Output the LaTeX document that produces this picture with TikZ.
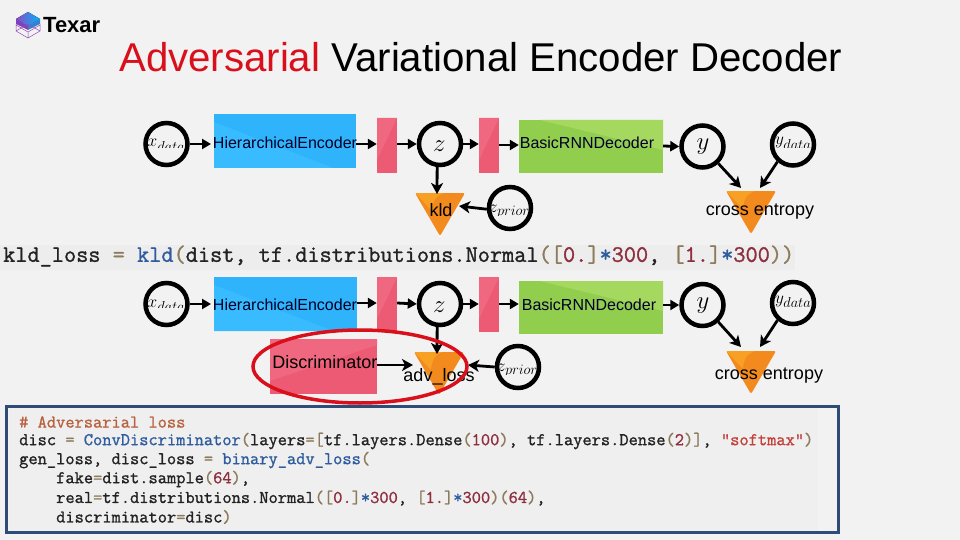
\documentclass[tikz,border=0pt]{standalone}
\usepackage{fontspec}
\setmainfont{Liberation Sans}
\setmonofont{Latin Modern Mono}[FakeBold=1.2]
\usetikzlibrary{arrows.meta,calc,shapes.geometric}
\definecolor{bgc}{HTML}{F2F2F2}
\definecolor{blueA}{HTML}{2FB4FC}
\definecolor{blueB}{HTML}{38BBFF}
\definecolor{greenA}{HTML}{92CE4E}
\definecolor{greenB}{HTML}{A5D85E}
\definecolor{pinkA}{HTML}{EC5A74}
\definecolor{pinkB}{HTML}{F0687F}
\definecolor{orA}{HTML}{F28A1E}
\definecolor{orB}{HTML}{F8A023}
\definecolor{boxc}{HTML}{2F4C78}
\definecolor{cKw}{HTML}{2F5C9E}
\definecolor{cCm}{HTML}{B8623F}
\definecolor{cNum}{HTML}{8E2F3F}
\definecolor{cStr}{HTML}{C2413B}
\definecolor{cOp}{HTML}{8D7B5C}
\definecolor{cTx}{HTML}{222222}
\definecolor{advred}{HTML}{D9101C}
\definecolor{stripc}{HTML}{EDEDED}
\definecolor{codebg}{HTML}{EFEFEF}
\newcommand{\K}[1]{\textcolor{cKw}{#1}}
\newcommand{\C}[1]{\textcolor{cCm}{#1}}
\newcommand{\N}[1]{\textcolor{cNum}{#1}}
\newcommand{\St}[1]{\textcolor{cStr}{#1}}
\newcommand{\Op}[1]{\textcolor{cOp}{#1}}
\tikzset{
  x=1pt,y=-1pt,
  ring/.style={circle,draw=black,line width=4.5pt,minimum size=42pt,inner sep=0pt},
  lab/.style={inner sep=0pt,font=\fontsize{18}{18}\selectfont,text=black},
  boxlab/.style={inner sep=0pt,font=\fontsize{16}{16}\selectfont,text=black!85!blue},
  ar/.style={-{Triangle[length=9pt,width=10pt]},line width=2.8pt,black},
  ard/.style={-{Stealth[length=11pt,width=12pt,inset=3pt]},line width=2.8pt,black},
  code/.style={anchor=west,inner sep=0pt,text=cTx,font=\ttfamily\fontsize{17.93}{17.93}\selectfont},
  codeb/.style={anchor=west,inner sep=0pt,text=cTx,font=\ttfamily\fontsize{23.63}{23.63}\selectfont},
}
% #1 name, #2 centre, #3 maths, #4 x offset, #5 baseline offset, #6 clip bottom, #7 size
\newcommand{\ringnode}[7]{%
  \begin{scope}
    \clip ($#2+(-22,-21)$) rectangle ($#2+(22,#6)$);
    \node[inner sep=0pt,anchor=base west,font=\fontsize{#7}{#7}\selectfont] (#1t) at ($#2+(#4,#5)$) {$#3$};
  \end{scope}
  \node[ring] (#1) at #2 {};
}
\newcommand{\tri}[3]{% name, x centre, y top
  \fill[orA,rounded corners=2pt] (#2-25,#3) -- (#2+25,#3) -- (#2,#3+43) -- cycle;
  \fill[orB,rounded corners=2pt] (#2-25,#3) -- (#2+4,#3) .. controls (#2-4,#3+3) and (#2-7,#3+8) .. (#2-8,#3+18) -- cycle;
  \coordinate (#1) at (#2,#3);
}
\begin{document}
\begin{tikzpicture}
\useasboundingbox (0,0) rectangle (960,540);
\fill[bgc] (0,0) rectangle (960,540);

% logo
\fill[left color=blue!55!purple!70,right color=cyan!70!blue] (28,12) -- (40,19) -- (28,26) -- (16,19) -- cycle;
\fill[blue!55!purple!75] (16,19) -- (28,26) -- (28,30) -- (16,24) -- cycle;
\fill[cyan!55!blue!85] (40,19) -- (28,26) -- (28,30) -- (40,24) -- cycle;
\draw[purple!55!blue!70,line width=.5pt] (16,24) -- (16,31) -- (28,38) -- (40,31) -- (40,24) (16,31) -- (28,24) -- (40,31) (16,25) -- (28,32) -- (40,25) (28,32) -- (28,38);
\node[inner sep=0pt,anchor=west,font=\bfseries\fontsize{22}{22}\selectfont,text=black] (logo) at (43,25) {Texar};

% title
\node[inner sep=0pt,anchor=west,font=\fontsize{40.2}{40.2}\selectfont,text=black] (title) at (119,57) {\textcolor{advred}{Adversarial} Variational Encoder Decoder};

% row 1 boxes
\fill[blueA] (214,114) rectangle (356,168);
\fill[blueB] (214,122) -- (333,168) -- (214,168) -- cycle;
\node[minimum width=142pt,minimum height=54pt,inner sep=0pt] (enc1) at (285,141) {};
\node[boxlab] (enc1t) at (285,143) {HierarchicalEncoder};
\fill[pinkA] (377,118) rectangle (397,173);
\fill[pinkB] (377,118) -- (397,118) -- (377,160) -- cycle;
\node[minimum width=20pt,minimum height=55pt,inner sep=0pt] (p1) at (387,145.5) {};
\fill[pinkA] (479,118) rectangle (499,173);
\fill[pinkB] (479,118) -- (499,118) -- (479,160) -- cycle;
\node[minimum width=20pt,minimum height=55pt,inner sep=0pt] (p2) at (489,145.5) {};
\fill[greenA] (519,120) rectangle (663,173);
\fill[greenB] (540,120) -- (663,120) -- (663,150) -- cycle;
\node[minimum width=144pt,minimum height=53pt,inner sep=0pt] (dec1) at (591,146.5) {};
\node[boxlab] (dec1t) at (587,143) {BasicRNNDecoder};

% row 1 rings
\ringnode{x1}{(166.5,144)}{x_{data}}{-19}{3}{3.5}{19}
\ringnode{z1}{(440,144)}{z}{-7}{8}{21}{24}
\ringnode{y1}{(702.5,146.5)}{y}{-6}{3}{21}{24}
\ringnode{yd1}{(793,144.5)}{y_{data}}{-18}{0.5}{3.5}{19}
\ringnode{zp1}{(510,208)}{z_{prior}}{-21}{4}{7}{19}

% row 1 triangles
\tri{kld1}{440}{193}
\tri{ce1}{751}{191}
\node[lab] (kld1t) at (441,210) {kld};
\node[lab] (ce1t) at (760,212) {cross entropy};
\coordinate (kldTop) at (437,194);
\coordinate (kldRight) at (459,206);
\coordinate (ceL) at (741,188);
\coordinate (ceR) at (760,188);

% row 1 connectors
\draw[ar] (x1.east) -- (211,144);
\draw[ar] (enc1.east |- 0,144) -- (p1.west |- 0,144);
\draw[ar] (p1.east |- 0,144) -- (z1.west);
\draw[ar] (z1.east) -- (p2.west |- 0,144);
\draw[ar] (p2.east |- 0,145) -- (dec1.west |- 0,145);
\draw[ar] (dec1.east |- 0,146) -- (y1.west);
\draw[ard] (y1.-47) -- (ceL);
\draw[ard] (yd1.-132) -- (ceR);
\draw[ard] (z1.-97) -- (kldTop);
\draw[ard] (zp1.183) -- (kldRight);

% first code strip
\fill[stripc] (0,245) rectangle (795,270);
\node[codeb] (code0) at (3,256) {kld\_loss \Op{=} \K{kld}\Op{(}dist, tf.distributions.Normal\Op{([}\N{0.}\Op{]}\K{*}\N{300}, \Op{[}\N{1.}\Op{]}\K{*}\N{300}\Op{))}};

% row 2 boxes
\fill[blueA] (214,277) rectangle (357,331);
\fill[blueB] (214,285) -- (333,331) -- (214,331) -- cycle;
\node[minimum width=143pt,minimum height=54pt,inner sep=0pt] (enc2) at (285.5,304) {};
\node[boxlab] (enc2t) at (285,305) {HierarchicalEncoder};
\fill[pinkA] (377,277) rectangle (397,332);
\fill[pinkB] (377,277) -- (397,277) -- (377,319) -- cycle;
\node[minimum width=20pt,minimum height=55pt,inner sep=0pt] (p3) at (387,304.5) {};
\fill[pinkA] (479,277) rectangle (499,332);
\fill[pinkB] (479,277) -- (499,277) -- (479,319) -- cycle;
\node[minimum width=20pt,minimum height=55pt,inner sep=0pt] (p4) at (489,304.5) {};
\fill[greenA] (519,281) rectangle (663,334);
\fill[greenB] (540,281) -- (663,281) -- (663,311) -- cycle;
\node[minimum width=144pt,minimum height=53pt,inner sep=0pt] (dec2) at (591,307.5) {};
\node[boxlab] (dec2t) at (589,305) {BasicRNNDecoder};
\fill[pinkA] (270,339) rectangle (377,394);
\fill[pinkB] (270,381) -- (270,339) -- (377,339) -- (377,345) -- cycle;
\node[minimum width=107pt,minimum height=55pt,inner sep=0pt] (disc) at (323.5,366.5) {};
\node[lab] (disct) at (325,362) {Discriminator};

% row 2 rings
\ringnode{x2}{(166.5,304)}{x_{data}}{-19}{3}{3.5}{19}
\ringnode{z2}{(440,304)}{z}{-7}{8}{21}{24}
\ringnode{y2}{(702.5,305)}{y}{-6}{3}{21}{24}
\ringnode{yd2}{(793,303)}{y_{data}}{-18}{0.5}{3.5}{19}
\ringnode{zp2}{(518,367)}{z_{prior}}{-21}{4}{7}{19}

% row 2 triangles
\tri{adv}{439}{352}
\tri{ce2}{751}{351}
\node[lab] (advt) at (439,377) {adv\_loss};
\node[lab] (ce2t) at (769,376) {cross entropy};
\coordinate (advTop) at (437,354);
\coordinate (advLeft) at (413,365);
\coordinate (advRight) at (468,365);
\coordinate (ce2L) at (741,347);
\coordinate (ce2R) at (760,347);

% row 2 connectors
\draw[ar] (x2.east) -- (211,304);
\draw[ar] (enc2.east |- 0,303) -- (p3.west |- 0,303);
\draw[ar] (p3.east |- 0,303) -- (z2.west);
\draw[ar] (z2.east) -- (p4.west |- 0,304);
\draw[ar] (p4.east |- 0,304) -- (dec2.west |- 0,304);
\draw[ar] (dec2.east |- 0,305) -- (y2.west);
\draw[ard] (y2.-47) -- (ce2L);
\draw[ard] (yd2.-132) -- (ce2R);
\draw[ard] (z2.-97) -- (advTop);
\draw[ard] (disc.east |- 0,365) -- (advLeft);
\draw[ard] (zp2.180) -- (advRight);

% highlight
\node[draw=advred,line width=3.5pt,ellipse,minimum width=214pt,minimum height=73pt,inner sep=0pt] (hl) at (360,366.5) {};

% adversarial code
\fill[codebg] (9,408) rectangle (818,531);
\draw[boxc,line width=3pt] (6.5,406.5) rectangle (838,532.5);
\node[code] (c1) at (19,422) {\C{\# Adversarial loss}};
\node[code] (c2) at (19,441) {disc \Op{=} \K{ConvDiscriminator}\Op{(}layers\Op{=[}tf.layers.Dense\Op{(}\N{100}\Op{)}, tf.layers.Dense\Op{(}\N{2}\Op{)]}, \St{"softmax"}\Op{)}};
\node[code] (c3) at (19,460) {gen\_loss, disc\_loss \Op{=} \K{binary\_adv\_loss}\Op{(}};
\node[code] (c4) at (56,479) {fake\Op{=}dist.sample\Op{(}\N{64}\Op{)},};
\node[code] (c5) at (56,498) {real\Op{=}tf.distributions.Normal\Op{([}\N{0.}\Op{]}\K{*}\N{300}, \Op{[}\N{1.}\Op{]}\K{*}\N{300}\Op{)(}\N{64}\Op{)},};
\node[code] (c6) at (56,517) {discriminator\Op{=}disc\Op{)}};
\end{tikzpicture}
\end{document}
